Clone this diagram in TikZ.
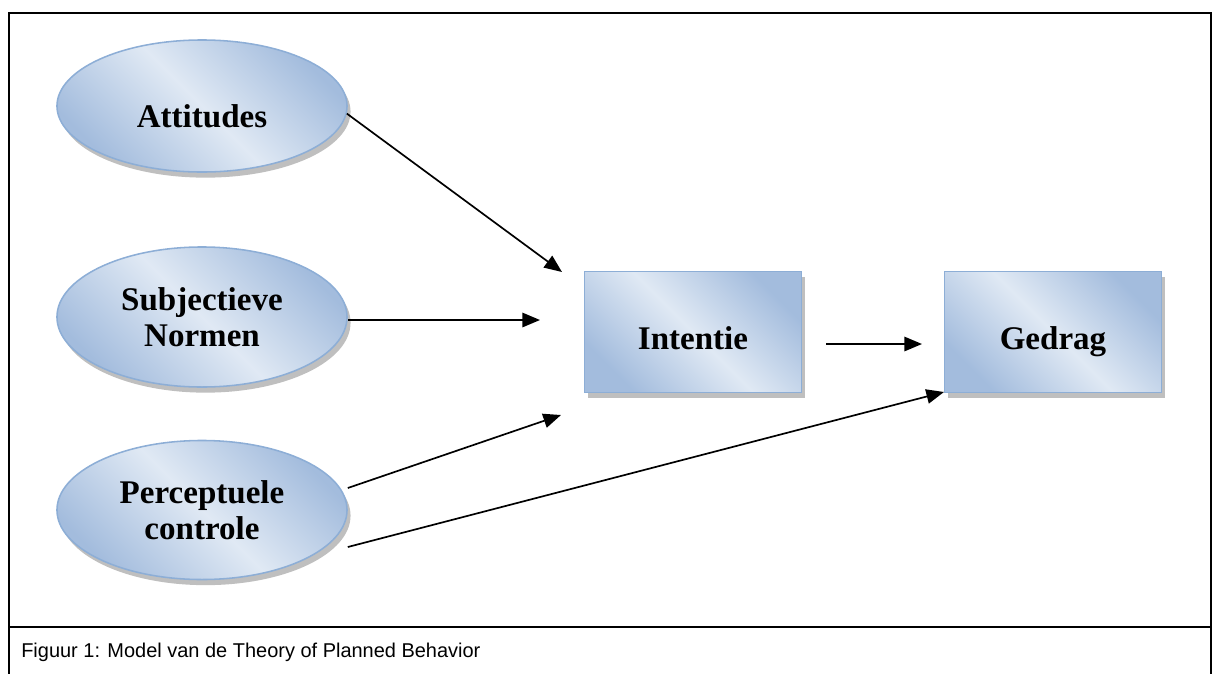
\documentclass[tikz,border=0pt]{standalone}
\usepackage{fontspec}
\setmainfont{Liberation Serif}
\newfontfamily\capfont{Liberation Sans}
\usetikzlibrary{arrows.meta,shapes.geometric,shadows}

\definecolor{tpbDark}{RGB}{163,188,221}
\definecolor{tpbLight}{RGB}{224,233,244}
\definecolor{tpbEdge}{RGB}{141,174,214}

\tikzset{
    tpbfill/.style={draw=tpbEdge, line width=1.1pt,
        top color=tpbDark, bottom color=tpbDark, middle color=tpbLight, shading angle=-45,
        drop shadow={shadow xshift=2.5pt, shadow yshift=-4pt, fill=gray!50, opacity=1},
        font=\fontsize{23.5}{26}\selectfont\bfseries, align=center, inner sep=0pt},
    factor/.style={tpbfill, ellipse, minimum width=7.25cm},
    outcome/.style={tpbfill, rectangle, minimum width=5.425cm, minimum height=3.025cm,
        text height=25pt, text depth=0pt},
    link/.style={->, line width=1.2pt}
}

\begin{document}
\begin{tikzpicture}[x=0.025cm, y=-0.025cm, >={Triangle[length=0.44cm,width=0.36cm]}]
    \useasboundingbox (0,0) rectangle (1213,673);

    % frame and caption
    \draw[line width=1.3pt] (9,13) rectangle (1211,700);
    \draw[line width=1pt] (9,627) -- (1211,627);
    \node[anchor=west, inner sep=0pt, font=\capfont\fontsize{14.2}{16}\selectfont] (cap) at (21,652)
        {Figuur 1: Model van de Theory of Planned Behavior};

    % determinants
    \node[factor, minimum height=3.3cm, text height=30pt, text depth=0pt] (att) at (202,106) {Attitudes};
    \node[factor, minimum height=3.5cm] (subj) at (202,317) {Subjectieve\\Normen};
    \node[factor, minimum height=3.475cm] (perc) at (202,510) {Perceptuele\\controle};

    % intention and behaviour
    \node[outcome] (int) at (693,332) {Intentie};
    \node[outcome] (gd) at (1053,332) {Gedrag};

    % free arrow ends
    \coordinate (intA) at (562,272);
    \coordinate (intS) at (540,320);
    \coordinate (intP) at (561,415);
    \coordinate (gdP) at (944,392);
    \coordinate (gdI) at (922,344);

    \draw[link] (att.-3) -- (intA);
    \draw[link] (subj.east) ++(0,3) -- (intS);
    \draw[link] (perc.east) ++(0,-22) -- (intP);
    \draw[link] (perc.east) ++(0,37) -- (gdP);
    \draw[link] (int.east) ++(24,12) -- (gdI);
\end{tikzpicture}
\end{document}
